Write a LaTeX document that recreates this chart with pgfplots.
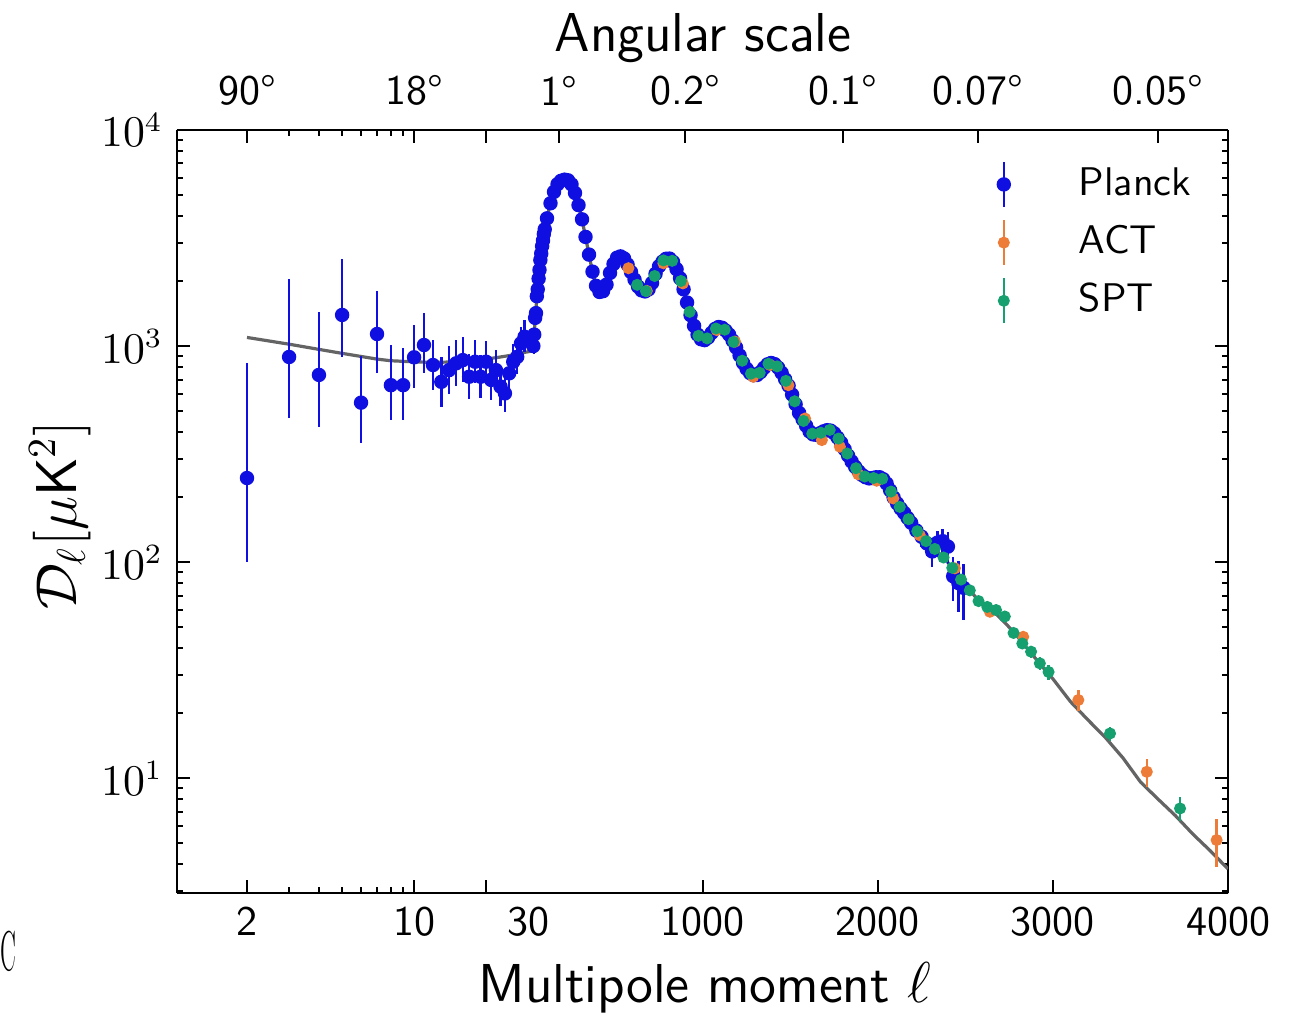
\documentclass[border=0pt]{standalone}
\usepackage{pgfplots}
\pgfplotsset{compat=1.18}
\definecolor{planck}{RGB}{15,15,225}
\definecolor{act}{RGB}{236,124,56}
\definecolor{spt}{RGB}{22,160,112}
\definecolor{theory}{RGB}{100,100,100}
\begin{document}
\begin{tikzpicture}
% ---------------- left part: log scale 2..30 ----------------
\begin{axis}[at={(0pt,0pt)}, anchor=south west, scale only axis, width=89pt, height=190.75pt,
  xmode=log, ymode=log, xmin=1.019, xmax=31.45, ymin=2.94, ymax=10000,
  tick align=inside, major tick length=3.2pt, minor tick length=1.6pt,
  tick style={black, line width=0.5pt},
  axis line style={-, black, line width=0.55pt},
  tick label style={font=\fontsize{10.5}{12}\selectfont\sffamily},
  axis x line*=box, axis y line*=left,
  xtick={2,10,20}, xticklabels={2,10,{}}, minor xtick={3,4,5,6,7,8,9}, xtick pos=left,
  extra x ticks={30}, extra x tick labels={30}, extra x tick style={major tick length=0pt},
  ytick={10,100,1000,10000},
  minor ytick={3,4,5,6,7,8,9,20,30,40,50,60,70,80,90,200,300,400,500,600,700,800,900,2000,3000,4000,5000,6000,7000,8000,9000},
  ytick pos=left,
  yticklabel style={font=\fontsize{10.5}{12}\selectfont}]
\addplot[theory, line width=0.8pt, forget plot] coordinates {
(2,1096) (3,1020) (4,965) (5,925) (6,895) (7,870) (8,855) (10,845) (12,840) (15,845)
(18,860) (20,870) (23,890) (26,910) (29,935) (31.45,950)};
\addplot[planck, only marks, mark=*, mark size=1.6pt,
  error bars/.cd, y dir=both, y explicit, error mark=none,
  error bar style={line width=0.6pt, planck}] coordinates {
(2,245) += (0,589) -= (0,145)
(3,890) += (0,1152) -= (0,426)
(4,735) += (0,708) -= (0,312)
(5,1393) += (0,1125) -= (0,502)
(6,547) += (0,352) -= (0,192)
(7,1137) += (0,661) -= (0,389)
(8,659) += (0,353) -= (0,205)
(9,659) += (0,316) -= (0,205)
(10,887) += (0,363) -= (0,250)
(11,1011) += (0,411) -= (0,263)
(12,817) += (0,250) -= (0,190)
(13,683) += (0,210) -= (0,160)
(14,774) += (0,230) -= (0,175)
(15,832) += (0,240) -= (0,180)
(16,861) += (0,240) -= (0,180)
(17,721) += (0,200) -= (0,150)
(18,846) += (0,220) -= (0,170)
(19,721) += (0,190) -= (0,145)
(20,846) += (0,210) -= (0,160)
(21,697) += (0,170) -= (0,135)
(22,774) += (0,185) -= (0,145)
(23,649) += (0,150) -= (0,120)
(24,604) += (0,140) -= (0,110)
(25,748) += (0,165) -= (0,130)
(26,846) += (0,180) -= (0,140)
(27,891) += (0,180) -= (0,145)
(28,1029) += (0,200) -= (0,160)
(29,1104) += (0,210) -= (0,170)
};
\end{axis}
% top ticks of the left part
\begin{axis}[at={(0pt,0pt)}, anchor=south west, scale only axis, width=89pt, height=190.75pt,
  xmode=log, xmin=1.019, xmax=31.45, ymin=0, ymax=1, hide y axis,
  axis line style={-, black, line width=0.55pt},
  tick align=inside, major tick length=3.2pt, minor tick length=1.6pt,
  tick style={black, line width=0.5pt},
  xtick pos=right, xticklabel pos=right,
  xtick={2,10,20}, xticklabels={90\textdegree,18\textdegree,{}}, minor xtick={3,4,5,6,7,8,9},
  xticklabel style={font=\fontsize{10.5}{12}\selectfont\sffamily, yshift=2.5pt}]
\addplot[draw=none] coordinates {(2,0.5)};
\end{axis}
% ---------------- right part: linear 30..4000 ----------------
\begin{axis}[at={(89pt,0pt)}, anchor=south west, scale only axis, width=173.75pt, height=190.75pt,
  ymode=log, xmin=30, xmax=4000, ymin=2.94, ymax=10000,
  tick align=inside, major tick length=3.2pt, minor tick length=1.6pt,
  tick style={black, line width=0.5pt},
  axis line style={-, black, line width=0.55pt},
  tick label style={font=\fontsize{10.5}{12}\selectfont\sffamily},
  axis x line*=box, axis y line*=right,
  xtick={1000,2000,3000,4000}, xticklabels={1000,2000,3000,4000}, minor xtick={}, xtick pos=left,
  ytick={10,100,1000,10000},
  minor ytick={3,4,5,6,7,8,9,20,30,40,50,60,70,80,90,200,300,400,500,600,700,800,900,2000,3000,4000,5000,6000,7000,8000,9000},
  ytick pos=right, yticklabels={},
  legend image code/.code={
    \draw[#1, mark=none, line width=0.6pt] (0pt,-5.6pt) -- (0pt,5.6pt);
    \draw[#1] plot coordinates {(0pt,0pt)};
    \path[draw=none, fill=none] (-3pt,0pt) rectangle (17.25pt,0.1pt);
  },
  legend style={draw=none, fill=none, at={(rel axis cs:0.659,0.9651)}, anchor=north west,
    font=\fontsize{10}{12}\selectfont\sffamily, inner sep=0pt, row sep=1.05pt,
    nodes={inner sep=1.5pt, text height=8pt, text depth=2.5pt}},
  legend cell align=left]
\addplot[theory, line width=0.8pt, forget plot] coordinates {
(30,950) (40,1250) (50,1600) (60,1950) (70,2400) (80,2800) (90,3200) (100,3550) (120,4250) (140,4900)
(160,5450) (180,5750) (200,5880) (215,5900) (230,5850) (250,5600) (270,5100) (290,4500) (310,3850) (330,3200)
(350,2650) (370,2200) (390,1900) (410,1780) (430,1790) (450,1930) (470,2180) (490,2400) (510,2560) (530,2600)
(550,2550) (570,2380) (590,2200) (610,2030) (630,1890) (650,1810) (670,1790) (690,1830) (710,1960) (730,2160)
(750,2340) (770,2460) (790,2530) (810,2540) (830,2450) (850,2270) (870,2060) (890,1830) (910,1590) (930,1390)
(950,1240) (970,1130) (990,1075) (1010,1065) (1030,1095) (1050,1150) (1070,1200) (1090,1225) (1110,1215) (1130,1180)
(1150,1130) (1170,1060) (1190,985) (1210,905) (1230,835) (1250,785) (1270,750) (1290,733) (1310,735) (1330,758)
(1350,793) (1370,823) (1390,835) (1410,825) (1430,795) (1450,752) (1470,702) (1490,655) (1510,596) (1530,538)
(1550,490) (1570,458) (1590,428) (1610,402) (1630,390) (1650,388) (1670,395) (1690,403) (1710,408) (1730,406)
(1750,395) (1770,377) (1790,357) (1810,333) (1830,311) (1850,292) (1870,276) (1890,263) (1910,253) (1930,247)
(1950,244) (1970,245) (1990,247) (2010,247) (2030,242) (2050,231) (2070,215) (2090,199) (2110,187) (2130,177)
(2150,169) (2170,160) (2190,152) (2230,137) (2280,124) (2330,114) (2380,104) (2430,93) (2480,82) (2530,73)
(2580,66) (2630,61) (2680,57) (2730,52) (2780,47) (2830,42) (2880,37.5) (2930,33.5) (2980,30) (3000,28.8)
(3100,22.6) (3200,18.6) (3300,15.4) (3400,12.4) (3500,9.6) (3600,8.0) (3700,6.7) (3800,5.5) (3900,4.6) (4000,3.8)};
\addplot[planck, only marks, mark=*, mark size=1.6pt,
  error bars/.cd, y dir=both, y explicit, error mark=none,
  error bar style={line width=0.6pt, planck}] coordinates {
(32,1000) +- (0,80) (37,1130) +- (0,85) (42,1350) +- (0,90) (47,1420) +- (0,95) (52,1700) +- (0,100)
(57,1830) +- (0,100) (62,2050) +- (0,110) (67,2250) +- (0,110) (72,2500) +- (0,110) (77,2680) +- (0,110)
(82,2900) +- (0,110) (87,3080) +- (0,110) (92,3300) +- (0,110) (97,3470) +- (0,110)
(110,3900) +- (0,80) (130,4580) +- (0,80) (150,5170) +- (0,80) (170,5610) +- (0,80) (190,5820) +- (0,80)
(210,5890) +- (0,80) (230,5850) +- (0,75) (250,5600) +- (0,70) (270,5110) +- (0,65) (290,4490) +- (0,60)
(310,3860) +- (0,55) (330,3200) +- (0,50) (350,2650) +- (0,45) (370,2210) +- (0,40) (390,1900) +- (0,35)
(410,1780) +- (0,32) (430,1795) +- (0,32) (450,1925) +- (0,32) (470,2180) +- (0,33) (490,2400) +- (0,34)
(510,2565) +- (0,35) (530,2600) +- (0,35) (550,2545) +- (0,35) (570,2385) +- (0,34) (590,2200) +- (0,33)
(610,2030) +- (0,32) (630,1885) +- (0,30) (650,1810) +- (0,30) (670,1790) +- (0,30) (690,1830) +- (0,30)
(710,1960) +- (0,30) (730,2160) +- (0,32) (750,2340) +- (0,33) (770,2460) +- (0,33) (790,2535) +- (0,33)
(810,2540) +- (0,33) (830,2450) +- (0,32) (850,2270) +- (0,30) (870,2060) +- (0,28) (890,1830) +- (0,26)
(910,1590) +- (0,24) (930,1390) +- (0,22) (950,1240) +- (0,20) (970,1130) +- (0,18) (990,1075) +- (0,17)
(1010,1065) +- (0,16) (1030,1095) +- (0,16) (1050,1150) +- (0,16) (1070,1200) +- (0,16) (1090,1225) +- (0,16)
(1110,1215) +- (0,16) (1130,1180) +- (0,15) (1150,1130) +- (0,15) (1170,1060) +- (0,14) (1190,985) +- (0,13)
(1210,905) +- (0,12) (1230,835) +- (0,12) (1250,785) +- (0,11) (1270,750) +- (0,11) (1290,733) +- (0,10)
(1310,735) +- (0,10) (1330,758) +- (0,10) (1350,793) +- (0,11) (1370,823) +- (0,11) (1390,835) +- (0,11)
(1410,825) +- (0,11) (1430,795) +- (0,11) (1450,752) +- (0,10) (1470,702) +- (0,10) (1490,655) +- (0,10)
(1510,596) +- (0,9) (1530,538) +- (0,9) (1550,490) +- (0,9) (1570,458) +- (0,9) (1590,428) +- (0,8)
(1610,402) +- (0,8) (1630,390) +- (0,8) (1650,388) +- (0,8) (1670,395) +- (0,8) (1690,403) +- (0,8)
(1710,408) +- (0,8) (1730,406) +- (0,8) (1750,395) +- (0,8) (1770,377) +- (0,8) (1790,357) +- (0,8)
(1810,333) +- (0,8) (1830,311) +- (0,8) (1850,292) +- (0,8) (1870,276) +- (0,8) (1890,263) +- (0,8)
(1910,253) +- (0,8) (1930,247) +- (0,8) (1950,244) +- (0,8) (1970,245) +- (0,8) (1990,247) +- (0,9)
(2010,247) +- (0,9) (2030,242) +- (0,9) (2050,231) +- (0,9) (2070,215) +- (0,9) (2090,199) +- (0,10)
(2110,187) +- (0,10) (2130,177) +- (0,10) (2150,169) +- (0,11) (2170,160) +- (0,11) (2190,152) +- (0,12)
(2220,140) +- (0,13) (2250,131) +- (0,14) (2280,122) +- (0,15) (2310,112) +- (0,17) (2340,123) +- (0,17)
(2370,125) +- (0,18) (2400,118) +- (0,20) (2430,86) +- (0,20) (2460,80) +- (0,21) (2490,76) +- (0,22)
};
\addplot[act, only marks, mark=*, mark size=1.3pt,
  error bars/.cd, y dir=both, y explicit, error mark=none,
  error bar style={line width=0.6pt, act}] coordinates {
(575,2292) +- (0,40) (680,1800) +- (0,35) (775,2415) +- (0,40) (886,1950) +- (0,35) (1079,1186) +- (0,25)
(1184,1048) +- (0,20) (1288,721) +- (0,15) (1384,817) +- (0,15) (1489,659) +- (0,13) (1584,462) +- (0,10)
(1680,367) +- (0,8) (1783,342) +- (0,7) (1888,255) +- (0,6) (1993,238) +- (0,5) (2088,197) +- (0,5)
(2240,133) +- (0,4) (2440,93.6) +- (0,4) (2640,58.9) +- (0,3) (2830,45.1) +- (0,3) (3145,23.0) +- (0,2.5)
(3536,10.7) +- (0,1.6) (3935,5.17) +- (0,1.3)
};
\addplot[spt, only marks, mark=*, mark size=1.3pt,
  error bars/.cd, y dir=both, y explicit, error mark=none,
  error bar style={line width=0.6pt, spt}] coordinates {
(625,1920) +- (0,30) (675,1795) +- (0,30) (725,2110) +- (0,32) (775,2490) +- (0,35) (825,2480) +- (0,35)
(875,2000) +- (0,30) (925,1440) +- (0,25) (975,1115) +- (0,20) (1025,1085) +- (0,18) (1075,1205) +- (0,18)
(1125,1190) +- (0,17) (1175,1045) +- (0,15) (1225,855) +- (0,13) (1275,745) +- (0,12) (1325,752) +- (0,11)
(1375,828) +- (0,11) (1425,805) +- (0,11) (1475,690) +- (0,10) (1525,555) +- (0,9) (1575,450) +- (0,8)
(1625,393) +- (0,7) (1675,397) +- (0,7) (1725,409) +- (0,7) (1775,373) +- (0,6) (1825,318) +- (0,6)
(1875,272) +- (0,5) (1925,249) +- (0,5) (1975,245) +- (0,5) (2025,243) +- (0,5) (2075,212) +- (0,4)
(2125,180) +- (0,4) (2175,158) +- (0,4) (2225,139) +- (0,3.5) (2275,125) +- (0,3.5) (2325,115) +- (0,3)
(2375,105) +- (0,3) (2425,94) +- (0,3) (2475,83) +- (0,2.8) (2525,74) +- (0,2.6) (2575,66) +- (0,2.5)
(2625,62) +- (0,2.4) (2675,60) +- (0,2.4) (2725,56) +- (0,2.3) (2775,47) +- (0,2.3) (2825,42) +- (0,2.3)
(2875,38.5) +- (0,2.5) (2925,34) +- (0,2.5) (2975,31) +- (0,2.5) (3326,16.1) +- (0,1.2) (3726,7.24) +- (0,0.9)
};
\legend{Planck,ACT,SPT}
\end{axis}
% top ticks of the right part
\begin{axis}[at={(89pt,0pt)}, anchor=south west, scale only axis, width=173.75pt, height=190.75pt,
  xmin=30, xmax=4000, ymin=0, ymax=1, hide y axis,
  axis line style={-, black, line width=0.55pt},
  tick align=inside, major tick length=3.2pt, minor tick length=1.6pt,
  tick style={black, line width=0.5pt},
  xtick pos=right, xticklabel pos=right,
  xtick={180,900,1800,2571.43,3600},
  xticklabels={1\textdegree,0.2\textdegree,0.1\textdegree,0.07\textdegree,0.05\textdegree},
  minor xtick={},
  xticklabel style={font=\fontsize{10.5}{12}\selectfont\sffamily, yshift=2.5pt}]
\addplot[draw=none] coordinates {(1000,0.5)};
\end{axis}
% labels
\node at (131.5pt,213.75pt) {\fontsize{13.7}{16}\selectfont\sffamily Angular scale};
\node at (132pt,-23.75pt) {\fontsize{13.7}{16}\selectfont\sffamily Multipole moment $\ell$};
\node[rotate=90] at (-29.25pt,94.5pt) {\fontsize{14}{16}\selectfont $\mathcal{D}_\ell[\mu\mathsf{K}^2]$};
\node[anchor=west, inner sep=0pt] at (-44.25pt,-14.5pt) {\fontsize{14}{16}\selectfont\scalebox{0.4}[1]{C}};
\pgfresetboundingbox
\path[use as bounding box] (-44.25pt,-31.5pt) rectangle (281.75pt,223.25pt);
\end{tikzpicture}
\end{document}
